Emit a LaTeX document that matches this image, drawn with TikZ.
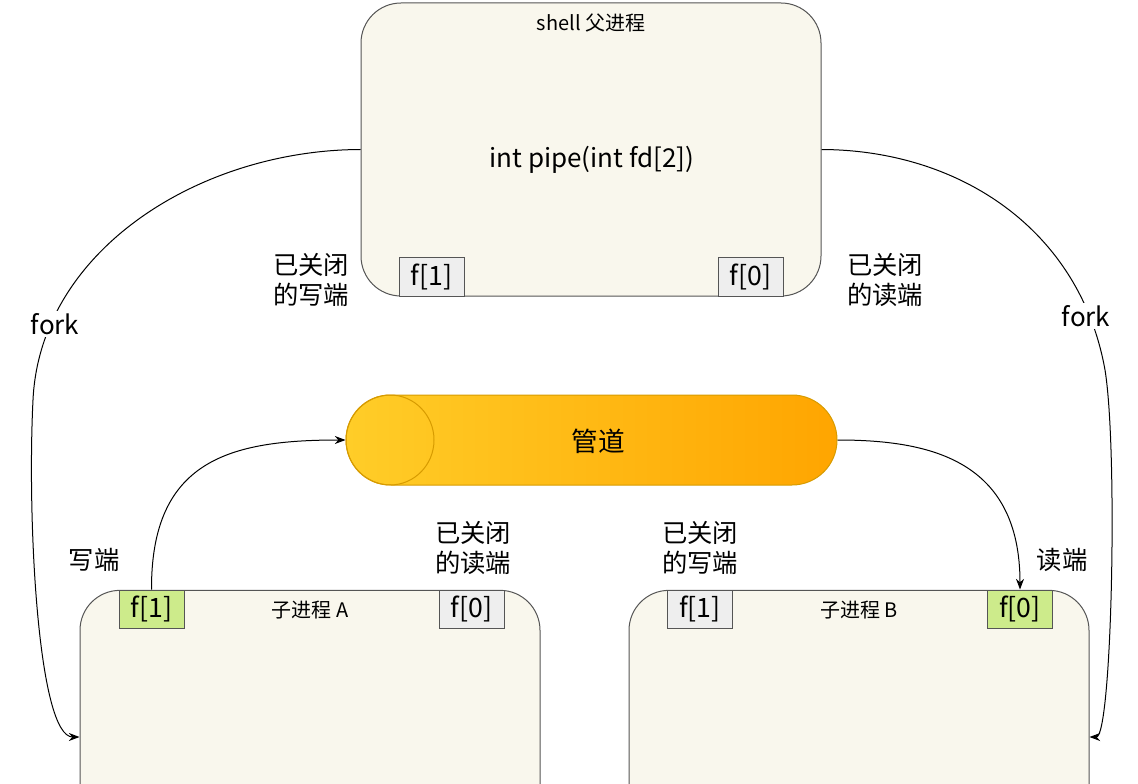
\documentclass[tikz,border=0pt]{standalone}
\usepackage{fontspec}
\setmainfont{Noto Sans CJK SC}
\usetikzlibrary{arrows.meta}
\definecolor{boxfill}{HTML}{F9F7ED}
\definecolor{boxline}{HTML}{555555}
\definecolor{greyfill}{HTML}{EEEEEE}
\definecolor{greenfill}{HTML}{CDEB8B}
\definecolor{pipeA}{HTML}{FFCD28}
\definecolor{pipeB}{HTML}{FFA500}
\definecolor{pipeline}{HTML}{D79B00}
\tikzset{
  procbox/.style={draw=boxline, fill=boxfill, line width=0.75pt, rounded corners=30pt,
    minimum width=345pt, minimum height=220pt, inner sep=0pt},
  fgrey/.style={draw=boxline, fill=greyfill, line width=0.75pt, minimum width=48.75pt,
    minimum height=28.5pt, inner sep=0pt, font=\fontsize{20}{22}\selectfont},
  fgreen/.style={fgrey, fill=greenfill},
  ttl/.style={font=\fontsize{15}{18}\selectfont, inner sep=0pt},
  lbl/.style={font=\fontsize{19}{22.5}\selectfont, align=center, inner sep=0pt},
  forklbl/.style={font=\fontsize{19.5}{22}\selectfont, fill=white, inner sep=1.5pt},
  arr/.style={draw=black, line width=0.75pt, -{Stealth[length=8pt,width=6pt]}},
}
\begin{document}
\begin{tikzpicture}[x=0.75pt,y=-0.75pt]
\useasboundingbox (0,0) rectangle (1138,784);
\clip (0,0) rectangle (1138,784);
% process boxes
\node[procbox, minimum height=219.75pt] (parent) at (591,149.5) {};
\node[procbox] (childA) at (310,737) {};
\node[procbox] (childB) at (859,737) {};
% titles
\node[ttl] (ptitle) at (591,23) {shell 父进程};
\node[ttl] (atitle) at (310,610) {子进程 A};
\node[ttl] (btitle) at (859,610) {子进程 B};
\node[font=\fontsize{19.5}{22}\selectfont, inner sep=0pt] (pcall) at (592,160) {int pipe(int fd[2])};
% fd boxes
\node[fgrey] (pf1) at (431.5,277) {f[1]};
\node[fgrey] (pf0) at (750.5,277) {f[0]};
\node[fgreen] (af1) at (151.5,609) {f[1]};
\node[fgrey] (af0) at (471.5,609) {f[0]};
\node[fgrey] (bf1) at (700,609) {f[1]};
\node[fgreen] (bf0) at (1020,609) {f[0]};
% pipe
\node[draw=pipeline, line width=0.75pt, left color=pipeA, right color=pipeB,
  rounded corners=33.75pt, minimum width=368.25pt, minimum height=67.5pt] (pipe) at (591.5,440) {};
\draw[pipeline, line width=0.75pt] (390,440) ellipse [x radius=33pt, y radius=33.75pt];
\node[font=\fontsize{20}{24}\selectfont, inner sep=0pt] (pipetext) at (598,441) {管道};
% fork connectors
\draw[arr] (parent.west) .. controls (200,150) and (40,250) .. (33,400)
  .. controls (27,520) and (38,737) .. (childA.west);
\draw[arr] (parent.east) .. controls (960,150) and (1080,230) .. (1105,370)
  .. controls (1118,450) and (1112,737) .. (childB.east);
\node[forklbl] (forkL) at (55,324) {fork};
\node[forklbl] (forkR) at (1086,316) {fork};
% pipe connectors
\draw[arr] (af1.north) .. controls (151,460) and (230,440) .. (pipe.west);
\draw[arr] (pipe.east) .. controls (930,440) and (1020,460) .. (bf0.north);
% labels
\node[lbl] (pclw) at (311,280) {已关闭\\的写端};
\node[lbl] (pclr) at (885,280) {已关闭\\的读端};
\node[lbl] (aw) at (94,560) {写端};
\node[lbl] (aclr) at (473,548) {已关闭\\的读端};
\node[lbl] (bclw) at (700,548) {已关闭\\的写端};
\node[lbl] (br) at (1062,560) {读端};
\end{tikzpicture}
\end{document}
